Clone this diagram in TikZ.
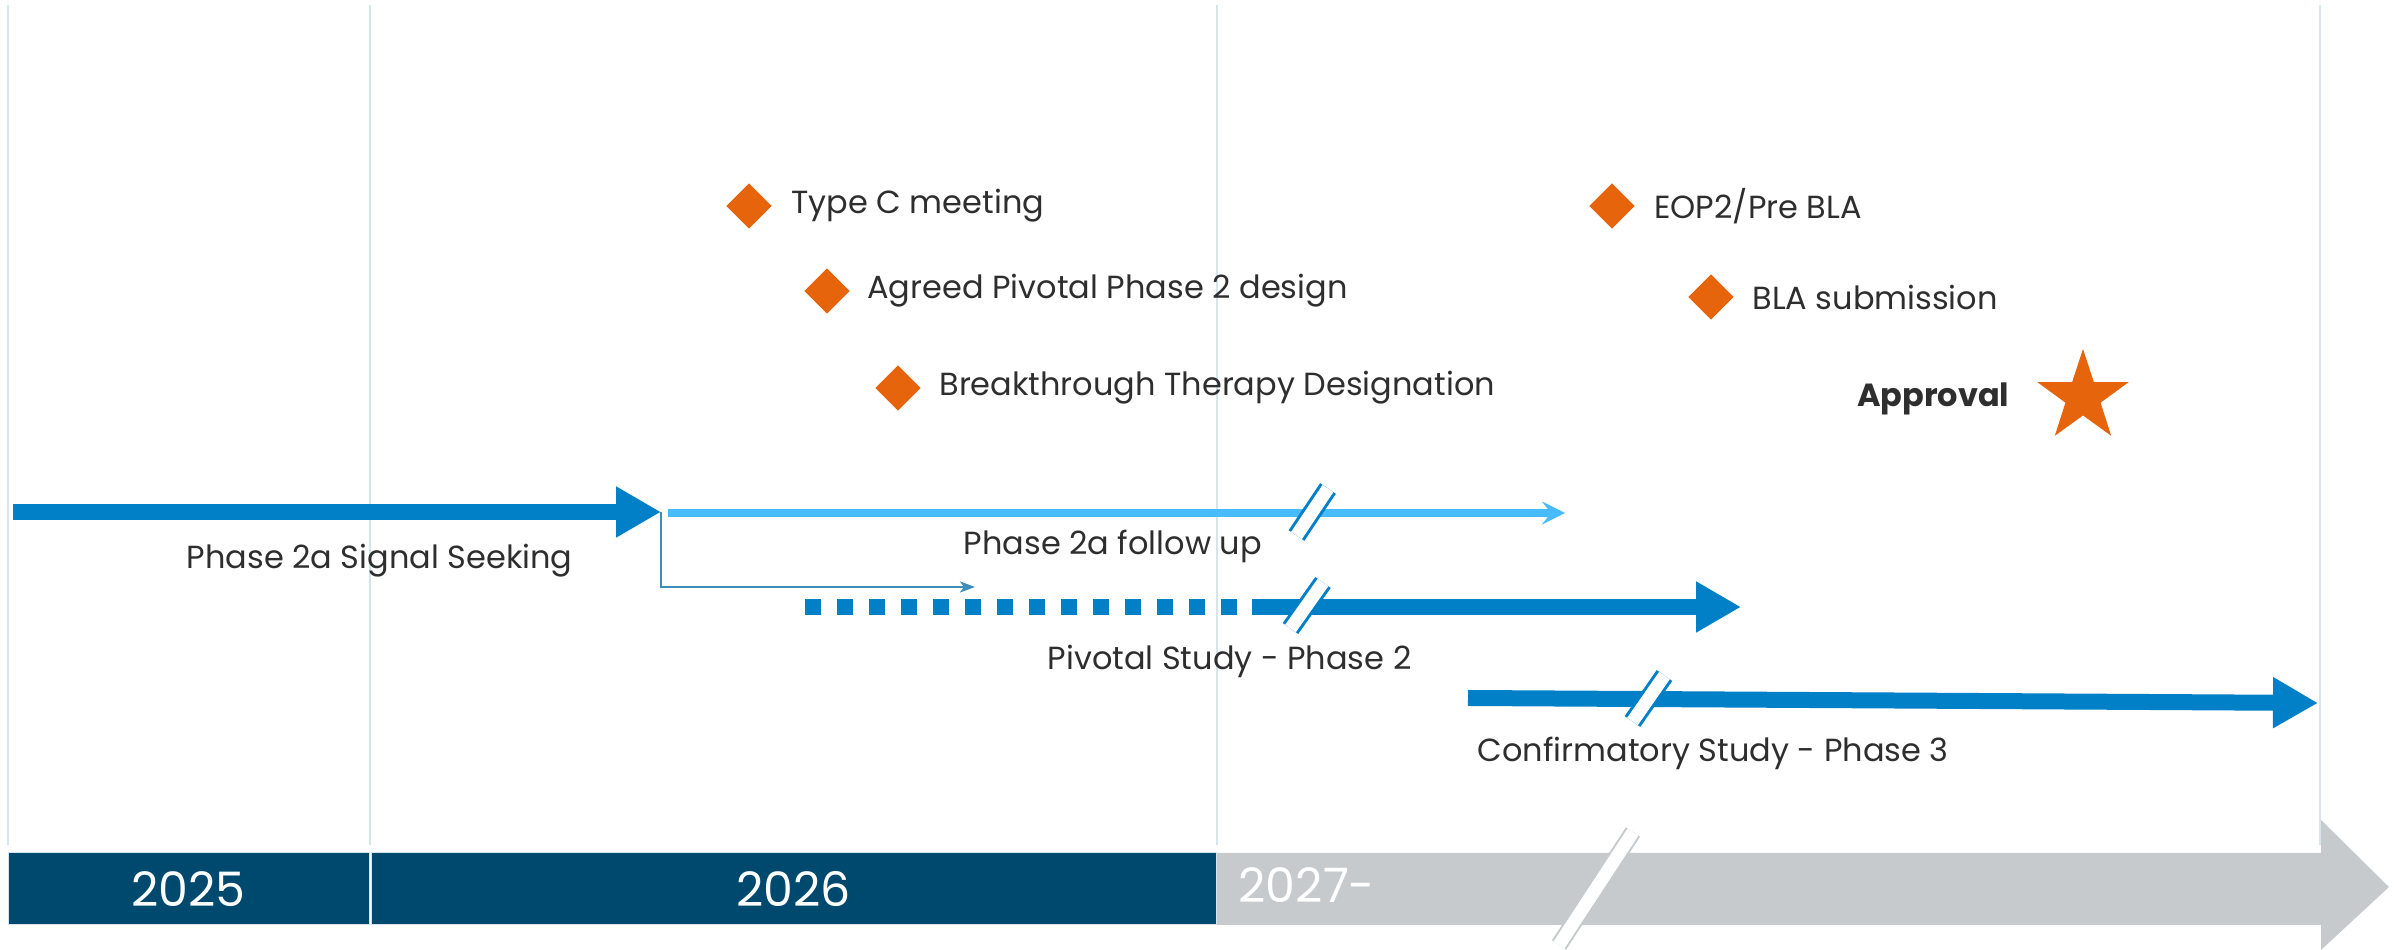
\documentclass[tikz,border=0pt]{standalone}
\usepackage{fontspec}
\setmainfont{Poppins}
\usetikzlibrary{arrows.meta,positioning,shapes.geometric}
\definecolor{navy}{HTML}{00496E}
\definecolor{bargray}{HTML}{C6CACD}
\definecolor{trialblue}{HTML}{0180C8}
\definecolor{followblue}{HTML}{47BBFB}
\definecolor{elbowblue}{HTML}{3D8DBA}
\definecolor{msorange}{HTML}{E5640C}
\definecolor{ink}{HTML}{2E2E2E}
\definecolor{gridline}{HTML}{D6E5EA}
\begin{document}
\begin{tikzpicture}[x=0.1mm,y=-0.1mm,font=\fontsize{9.1}{11}\selectfont,
 vline/.style={draw=gridline,line width=0.15mm},
 yearbox/.style={fill=navy,draw=gridline,line width=0.1mm,minimum height=7.2mm,inner sep=0pt,text=white,font=\fontsize{13.5}{15}\selectfont},
 lbl/.style={text=ink,inner sep=0pt,anchor=base west},
 ms/.style={diamond,fill=msorange,minimum width=4.6mm,minimum height=4.6mm,inner sep=0pt},
 bar/.style={draw=trialblue,line width=1.6mm},
 bighead/.style={-{Triangle[length=4.5mm,width=4.8mm]}},
 brk/.style={draw=trialblue,double=white,double distance=1.3mm,line width=0.3mm}]
\useasboundingbox (0,0) rectangle (2404,950);
\draw[vline] (8,5) -- (8,845);
\draw[vline] (370,5) -- (370,845);
\draw[vline] (1217,5) -- (1217,845);
\draw[vline] (2320,5) -- (2320,845);
\fill[bargray] (1217,853) -- (2321,853) -- (2321,820) -- (2389,887) -- (2321,950) -- (2321,925) -- (1217,925) -- cycle;
\draw[draw=bargray,double=white,double distance=1.3mm,line width=0.2mm] (1633,832) -- (1559,945);
\node[yearbox,minimum width=36.1mm] (y25) at (188.5,889) {2025};
\node[yearbox,minimum width=84.5mm] (y26) at (793.5,889) {2026};
\node[text=white,inner sep=0pt,anchor=base west,font=\fontsize{13.5}{15}\selectfont] (y27) at (1238,903) {2027-};

\coordinate (sig-a) at (13,512);
\coordinate (sig-b) at (661,512);
\coordinate (fu-a) at (668,513);
\coordinate (fu-b) at (1565,513);
\coordinate (elb-end) at (975,587);
\coordinate (pv-a) at (805,607);
\coordinate (pv-m) at (1252,607);
\coordinate (pv-b) at (1741,607);
\coordinate (cf-a) at (1468,698);
\coordinate (cf-b) at (2318,703);

\draw[bar,bighead] (sig-a) -- (sig-b);
\draw[draw=followblue,line width=0.8mm,-{Stealth[length=2.3mm,width=2.3mm,inset=0.9mm]}] (fu-a) -- (fu-b);
\draw[draw=elbowblue,line width=0.25mm,-{Stealth[length=1.5mm,width=1.1mm,inset=0.4mm]}] (sig-b) |- (elb-end);
\draw[bar,dash pattern=on 1.6mm off 1.6mm] (pv-a) -- (pv-m);
\draw[bar,bighead] (pv-m) -- (pv-b);
\draw[bar,bighead] (cf-a) -- (cf-b);
\draw[brk] (1296.5,535.5) -- (1328,488.5);
\draw[brk] (1290.5,628.5) -- (1323,582.5);
\draw[brk] (1632.5,721.5) -- (1664.5,675.5);

\node[lbl] (sig) at (186,569) {Phase 2a Signal Seeking};
\node[lbl] (fu) at (963,555) {Phase 2a follow up};
\node[lbl] (pv) at (1047,670) {Pivotal Study - Phase 2};
\node[lbl] (cf) at (1477,762) {Confirmatory Study - Phase 3};

\node[ms] (typec) at (749,206) {};
\node[ms] (agreed) at (827,291) {};
\node[ms] (btd) at (898,388) {};
\node[ms] (eop) at (1612,206) {};
\node[ms] (bla) at (1711,297) {};
\node[lbl,anchor=west,right=1.8mm of typec] {Type C meeting};
\node[lbl,anchor=west,right=1.6mm of agreed] {Agreed Pivotal Phase 2 design};
\node[lbl,anchor=west,right=1.7mm of btd] {Breakthrough Therapy Designation};
\node[lbl,anchor=west,right=1.8mm of eop] {EOP2/Pre BLA};
\node[lbl,anchor=west,right=1.7mm of bla] {BLA submission};
\node[star,star points=5,star point ratio=2.6,fill=msorange,minimum size=9.6mm,inner sep=0pt] (appr) at (2083,397) {};
\node[lbl,anchor=base east,font=\fontsize{9.1}{11}\selectfont\bfseries] at (2010,407) {Approval};
\end{tikzpicture}
\end{document}
